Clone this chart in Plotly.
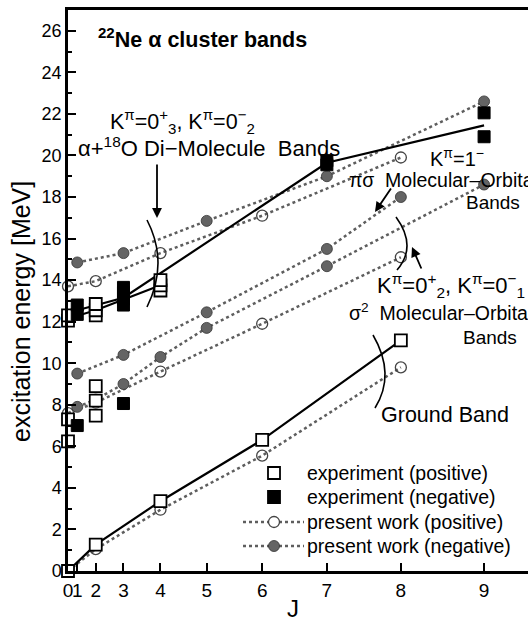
import plotly.graph_objects as go

# ---------------- data (J, excitation energy in MeV) ----------------
J_ticks = [0, 1, 2, 3, 4, 5, 6, 7, 8, 9]
E_ticks = list(range(0, 27, 2))

# experiment, positive parity (open squares)
exp_pos_J = [0, 2, 4, 6, 8, 0, 0, 2, 2, 2, 0, 0, 2, 2, 2, 4, 4, 4]
exp_pos_E = [0.0, 1.27, 3.36, 6.31, 11.1, 6.24, 7.3, 7.48, 8.2, 8.9,
             12.05, 12.3, 12.3, 12.55, 12.85, 13.5, 13.75, 14.0]
# experiment, negative parity (filled squares)
exp_neg_J = [1, 3, 1, 1, 3, 3, 3, 3, 7, 7, 9, 9]
exp_neg_E = [7.0, 8.06, 12.35, 12.8, 12.8, 13.1, 13.4, 13.65, 19.55, 19.75, 22.05, 20.9]

# experimental band lines (solid)
exp_ground_J = [0, 2, 4, 6, 8]
exp_ground_E = [0.0, 1.27, 3.36, 6.31, 11.1]
exp_dimol_pos_J = [0, 2, 4]
exp_dimol_pos_E = [12.15, 12.55, 13.75]
exp_dimol_neg_J = [1, 3, 7, 9]
exp_dimol_neg_E = [12.55, 13.15, 19.65, 21.45]

# present work, positive parity (dotted line + open circles)
calc_ground_J = [0, 2, 4, 6, 8]
calc_ground_E = [0.0, 1.05, 2.95, 5.55, 9.8]
calc_sigma2_pos_J = [0, 2, 4, 6, 8]
calc_sigma2_pos_E = [7.6, 8.1, 9.6, 11.9, 15.1]
calc_dimol_pos_J = [0, 2, 4, 6, 8]
calc_dimol_pos_E = [13.7, 13.95, 15.3, 17.1, 19.9]

# present work, negative parity (dotted line + hatched circles)
calc_dimol_neg_J = [1, 3, 5, 7, 9]
calc_dimol_neg_E = [14.85, 15.3, 16.85, 19.0, 22.6]
calc_sigma2_neg_J = [1, 2, 3, 4, 5, 7, 9]
calc_sigma2_neg_E = [7.9, 8.25, 9.0, 10.3, 11.7, 14.67, 18.6]
calc_pisigma_J = [1, 3, 5, 7, 8]
calc_pisigma_E = [9.5, 10.4, 12.45, 15.5, 18.0]

legend_labels = ["experiment (positive)", "experiment (negative)",
                 "present work (positive)", "present work (negative)"]


def jj(Js):
    return [j * (j + 1) for j in Js]


# ---------------- layout geometry ----------------
W, H = 528, 621
ML, MR, MT, MB = 68, 0, 10, 50
PW, PH = W - ML - MR, H - MT - MB
XMAX = 99.5
YMAX = 27.0


def px(x):  # pixel x -> paper
    return (x - ML) / PW


def py(y):  # pixel y -> paper
    return (H - MB - y) / PH


FONT = "Liberation Sans, Arial, Helvetica, sans-serif"
DOT_COL = "#5e5e5e"
HATCH_COL = "#646464"
CALC_LINE = dict(color=DOT_COL, width=2.5, dash="dot")
POS_MARK = dict(symbol="circle-open", size=11, color="#444", line=dict(width=1.3))
NEG_MARK = dict(symbol="circle", size=11, color=HATCH_COL, line=dict(width=0.8, color="#333"))

fig = go.Figure()

for Js, Es in [(calc_ground_J, calc_ground_E), (calc_sigma2_pos_J, calc_sigma2_pos_E),
               (calc_dimol_pos_J, calc_dimol_pos_E)]:
    fig.add_trace(go.Scatter(x=jj(Js), y=Es, mode="lines+markers", cliponaxis=False,
                             line=CALC_LINE, marker=POS_MARK, showlegend=False,
                             name=legend_labels[2]))

for Js, Es in [(calc_sigma2_neg_J, calc_sigma2_neg_E), (calc_pisigma_J, calc_pisigma_E),
               (calc_dimol_neg_J, calc_dimol_neg_E)]:
    fig.add_trace(go.Scatter(x=jj(Js), y=Es, mode="lines+markers", cliponaxis=False,
                             line=CALC_LINE, marker=NEG_MARK, showlegend=False,
                             name=legend_labels[3]))

for Js, Es in [(exp_ground_J, exp_ground_E), (exp_dimol_pos_J, exp_dimol_pos_E),
               (exp_dimol_neg_J, exp_dimol_neg_E)]:
    fig.add_trace(go.Scatter(x=jj(Js), y=Es, mode="lines", cliponaxis=False,
                             line=dict(color="black", width=2.2), showlegend=False,
                             hoverinfo="skip"))

fig.add_trace(go.Scatter(
    x=jj(exp_pos_J), y=exp_pos_E, mode="markers", cliponaxis=False, showlegend=False,
    marker=dict(symbol="square", size=12, color="white", line=dict(width=1.8, color="black")),
    name=legend_labels[0]))
fig.add_trace(go.Scatter(
    x=jj(exp_neg_J), y=exp_neg_E, mode="markers", cliponaxis=False, showlegend=False,
    marker=dict(symbol="square", size=12, color="black", line=dict(width=1, color="black")),
    name=legend_labels[1]))


# ---------------- decorations ----------------
def arc(p0, p1, p2):
    def d(p):
        return (px(p[0]) * XMAX, py(p[1]) * YMAX)
    a, b, c = d(p0), d(p1), d(p2)
    cx = 2 * b[0] - (a[0] + c[0]) / 2
    cy = 2 * b[1] - (a[1] + c[1]) / 2
    return dict(type="path", xref="x", yref="y",
                path=f"M {a[0]},{a[1]} Q {cx},{cy} {c[0]},{c[1]}",
                line=dict(color="black", width=1.6))


shapes = [
    arc((147, 220), (158, 263), (147, 307)),
    arc((396, 217), (407, 245), (397, 270)),
    arc((373, 335), (385, 373), (375, 408)),
]

ann = []


def text(x, y, s, size=21):
    ann.append(dict(x=px(x), y=py(y), xref="paper", yref="paper", text=s,
                    showarrow=False, xanchor="left", yanchor="middle",
                    font=dict(family=FONT, size=size, color="black")))


def arrow(hx, hy, tx, ty):
    ann.append(dict(x=px(hx), y=py(hy), xref="paper", yref="paper", text="",
                    showarrow=True, ax=tx - hx, ay=ty - hy, arrowhead=2,
                    arrowsize=1.1, arrowwidth=1.8, arrowcolor="black"))


text(96, 38, "<b><sup>22</sup>Ne α cluster bands</b>", size=21.5)
text(108, 122, "K<sup>π</sup>=0<sup>+</sup><sub>3</sub>, K<sup>π</sup>=0<sup>−</sup><sub>2</sub>", size=21.5)
text(76, 147, "α+<sup>18</sup>O Di−Molecule  Bands", size=22)
text(428, 157, "K<sup>π</sup>=1<sup>−</sup>", size=20)
text(347, 180, "πσ  Molecular–Orbital", size=19.5)
text(464, 202, "Bands", size=19)
text(375, 285, "K<sup>π</sup>=0<sup>+</sup><sub>2</sub>, K<sup>π</sup>=0<sup>−</sup><sub>1</sub>", size=22)
text(347, 312, "σ<sup>2</sup>  Molecular–Orbital", size=19.5)
text(461, 337, "Bands", size=19)
text(379, 415, "Ground Band", size=21.5)

arrow(157, 218, 157, 163)
arrow(375, 212, 392, 187)
arrow(412, 247, 422, 270)

# ---------------- hand-drawn legend ----------------
LEG_Y = [473, 497, 522, 546]
for lab, yy in zip(legend_labels, LEG_Y):
    text(305, yy, lab, size=19.5)


def box(cx, cy, hw, fill):
    return dict(type="rect", xref="paper", yref="paper",
                x0=px(cx - hw), x1=px(cx + hw), y0=py(cy + hw), y1=py(cy - hw),
                fillcolor=fill, line=dict(color="black", width=1.8))


def circ(cx, cy, r, fill, lc, lw):
    return dict(type="circle", xref="paper", yref="paper",
                x0=px(cx - r), x1=px(cx + r), y0=py(cy + r), y1=py(cy - r),
                fillcolor=fill, line=dict(color=lc, width=lw))


shapes += [box(274, LEG_Y[0], 6, "white"), box(274, LEG_Y[1], 6, "black")]
for yy, fill, lc, lw in [(LEG_Y[2], "white", "#444", 1.3), (LEG_Y[3], HATCH_COL, "#333", 0.8)]:
    shapes.append(dict(type="line", xref="paper", yref="paper",
                       x0=px(243), x1=px(304), y0=py(yy), y1=py(yy),
                       line=CALC_LINE))
    shapes.append(circ(274, yy, 5.5, fill, lc, lw))

# axis titles
ann.append(dict(x=px(21), y=py(312), xref="paper", yref="paper",
                text="excitation energy [MeV]", showarrow=False, textangle=-90,
                xanchor="center", yanchor="middle",
                font=dict(family=FONT, size=25, color="black")))
ann.append(dict(x=px(293), y=py(608), xref="paper", yref="paper", text="J",
                showarrow=False, xanchor="center", yanchor="middle",
                font=dict(family=FONT, size=24, color="black")))

fig.update_layout(
    width=W, height=H,
    margin=dict(l=ML, r=MR, t=MT, b=MB, pad=0),
    paper_bgcolor="white", plot_bgcolor="white",
    font=dict(family=FONT, size=18, color="black"),
    shapes=shapes, annotations=ann, showlegend=False,
)

fig.update_xaxes(
    range=[0, XMAX], tickmode="array", tickvals=jj(J_ticks), ticktext=[str(j) for j in J_ticks],
    tickangle=0, ticks="inside", ticklen=8, tickwidth=2, tickcolor="black",
    showline=True, linecolor="black", linewidth=2.5, mirror=True,
    showgrid=False, zeroline=False, tickfont=dict(size=19, family=FONT),
)
fig.update_yaxes(
    range=[0, YMAX], tickmode="array", tickvals=E_ticks,
    ticks="inside", ticklen=8, tickwidth=2, tickcolor="black",
    minor=dict(ticks="inside", ticklen=4, tickwidth=1.5, dtick=1, tick0=0, tickcolor="black"),
    showline=True, linecolor="black", linewidth=2.5,
    showgrid=False, zeroline=False, tickfont=dict(size=18, family=FONT),
)

# remove the default 8px page margin so the figure sits at the window's corner
fig.write_html("out.html", config={"displayModeBar": False},
               post_script="document.body.style.margin='0';document.body.style.overflow='hidden';")
